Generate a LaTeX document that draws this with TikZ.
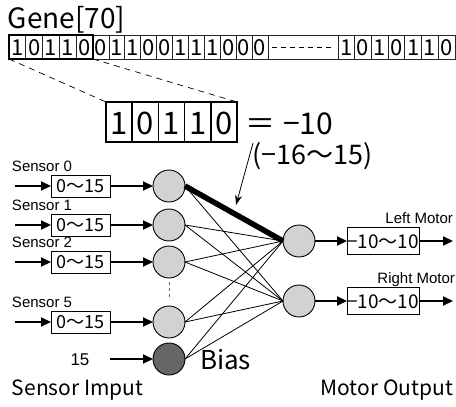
\documentclass[tikz,border=0pt]{standalone}
\usepackage{fontspec}
\setmainfont{Noto Sans CJK JP}
\newfontfamily\arialf{Liberation Sans}
\usetikzlibrary{arrows.meta}
\newcommand\fs[1]{\fontsize{#1}{#1}\selectfont}
\begin{document}
\begin{tikzpicture}[x=1pt,y=-1pt,
  every node/.style={inner sep=0pt, outer sep=0pt},
  cellline/.style={line width=0.7pt, draw=black!85},
  genedigit/.style={font=\fs{22}, text height=16pt, text depth=0pt},
  bigdigit/.style={font=\fs{31}, text height=22pt, text depth=0pt},
  arr/.style={-{Triangle[length=10pt,width=9pt]}, line width=2.2pt},
  conn/.style={line width=0.8pt},
  neuron/.style={circle, draw, line width=0.9pt, fill=gray!35, minimum size=32pt},
  biasn/.style={circle, draw, line width=0.9pt, fill=black!60, minimum size=32pt},
  sbox/.style={draw, line width=1pt, minimum width=59pt, minimum height=22pt, font=\fs{18}, text height=13pt, text depth=0pt},
  mbox/.style={draw, line width=1pt, minimum width=72pt, minimum height=27pt, font=\fs{19}, text height=14pt, text depth=0pt},
  slabel/.style={font=\arialf\fs{15}}
]
\useasboundingbox (0,0) rectangle (456,407);

% Gene label
\node[font=\fs{28}, anchor=base west] (gene) at (8,28) {Gene[70]};

% Gene row
\draw[cellline] (9,35) rectangle (455,59);
\foreach \d [count=\i] in {1,0,1,1,0}
  \node[genedigit] (ga\i) at ({9+16.8*(\i-0.5)},47) {\d};
\foreach \i in {1,...,4}
  \draw[cellline] ({9+16.8*\i},35) -- ++(0,24);
\foreach \d [count=\i] in {0,1,1,0,0,1,1,1,0,0,0}
  \node[genedigit] (gb\i) at ({93+15.9*(\i-0.5)},47) {\d};
\foreach \i in {1,...,11}
  \draw[cellline] ({93+15.9*\i},35) -- ++(0,24);
\draw[line width=0.7pt, dash pattern=on 5pt off 4pt] (272,47) -- (332,47);
\foreach \d [count=\i] in {1,0,1,0,1,1,0}
  \node[genedigit] (gc\i) at ({338+16.71*(\i-0.5)},47) {\d};
\foreach \i in {0,...,6}
  \draw[cellline] ({338+16.71*\i},35) -- ++(0,24);
\node[draw, line width=2.2pt, minimum width=84pt, minimum height=24pt, anchor=north west] (sel) at (9,35) {};

% Big box
\node[draw, line width=2pt, minimum width=131pt, minimum height=40pt] (big) at (171.5,122) {};
\foreach \i in {1,...,4}
  \draw[line width=1.6pt] ({106+26.2*\i},102) -- ++(0,40);
\foreach \d [count=\i] in {1,0,1,1,0}
  \node[bigdigit] (bd\i) at ({106+26.2*(\i-0.5)},123) {\d};
\draw[line width=0.7pt, dash pattern=on 6pt off 5pt] (sel.south west) -- (big.north west);
\draw[line width=0.7pt, dash pattern=on 6pt off 5pt] (sel.south east) -- (big.north east);

\node[font=\fs{30}, anchor=base] (eq) at (260,134) {＝};
\node[bigdigit, font=\fs{30}, anchor=west] (val) at (283,123) {−10};
\node[font=\fs{27}, text height=19pt, text depth=0pt, anchor=west] (range) at (252,155) {(−16〜15)};

% weight arrow
\coordinate (wa) at (253,143);
\coordinate (wb) at (236,205);
\draw[-{Stealth[length=10pt,width=7pt]}, line width=0.8pt] (wa) -- (wb);

% Inputs
\foreach \y/\n/\lab in {186/1/0, 225/2/1, 262/3/2, 322/4/5}{
  \node[neuron] (n\n) at (169,\y) {};
  \node[sbox] (box\n) at (80.5,\y) {0〜15};
  \coordinate (in\n) at (15,\y);
  \node[slabel, anchor=base west] (lab\n) at (12,\y-14.5) {Sensor \lab};
  \draw[arr] (in\n) -- (box\n);
  \draw[arr] (box\n) -- (n\n);
}
\node[biasn] (bias) at (169,359) {};
\node[font=\arialf\fs{17}, text height=12pt, text depth=0pt] (c15) at (80,359) {15};
\coordinate (b15) at (110,359);
\draw[arr] (b15) -- (bias);
\node[font=\fs{26}, text height=19pt, text depth=0pt, anchor=west] (biaslab) at (200,360) {Bias};
\draw[line width=1pt, draw=black!60, dash pattern=on 3pt off 3pt, shorten <=4pt, shorten >=6pt] (n3.south) -- (n4.north);

% Outputs
\node[neuron] (o1) at (299,241) {};
\node[neuron] (o2) at (299,301) {};
\node[mbox] (m1) at (383,241) {−10〜10};
\node[mbox] (m2) at (383,301) {−10〜10};
\coordinate (e1) at (453,241);
\coordinate (e2) at (453,301);
\draw[arr] (o1) -- (m1);
\draw[arr] (m1) -- (e1);
\draw[arr] (o2) -- (m2);
\draw[arr] (m2) -- (e2);
\node[slabel, anchor=base east] (ll) at (453,223.5) {Left Motor};
\node[slabel, anchor=base east] (rl) at (455,283.5) {Right Motor};

% Connections
\foreach \a in {n1,n2,n3,n4,bias}
  \foreach \b in {o1,o2}
    \draw[conn] (\a.east) -- (\b.west);
\draw[line width=5.5pt] (n1.east) -- (o1.west);

% Bottom labels
\node[font=\fs{21}, text height=15pt, text depth=0pt, anchor=west] (si) at (12,388) {Sensor Imput};
\node[font=\fs{21}, text height=15pt, text depth=0pt, anchor=east] (mo) at (453,388) {Motor Output};
\end{tikzpicture}
\end{document}
